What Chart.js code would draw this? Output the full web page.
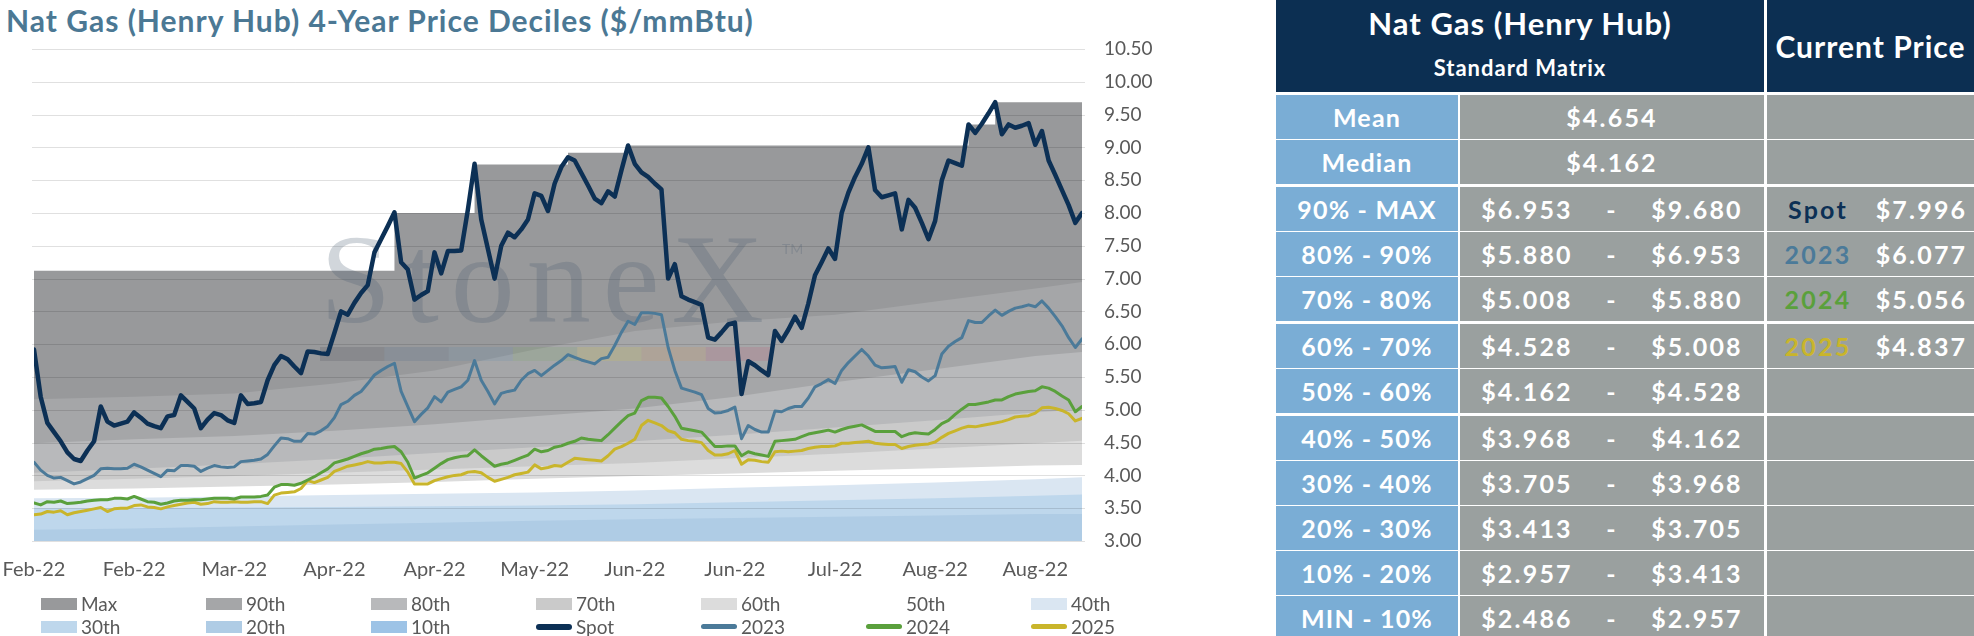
<!DOCTYPE html>
<html>
<head>
<meta charset="utf-8">
<script src="https://cdn.jsdelivr.net/npm/chart.js@4.4.1/dist/chart.umd.min.js"></script>
<style>
  html, body { margin: 0; padding: 0; background: #fff; }
  body { width: 1974px; height: 636px; position: relative; overflow: hidden; font-family: Lato, "Open Sans", sans-serif; }
  #title { position: absolute; left: 6px; top: 2px; font-size: 30px; letter-spacing: 1px; font-weight: 700; color: #4b7894; white-space: nowrap; }
  #chartBox { position: absolute; left: 0; top: 30px; width: 1200px; height: 570px; }
  #legend { position: absolute; left: 41px; top: 592px; display: grid; grid-template-columns: repeat(7, 165px); grid-auto-rows: 23px; font-size: 19px; color: #595959; }
  #legend .item { display: flex; align-items: center; white-space: nowrap; }
  #legend .sw { width: 36px; height: 12px; margin-right: 4px; }
  #legend .ln { width: 36px; height: 5px; border-radius: 3px; margin-right: 4px; }
  #matrix { position: absolute; left: 1276px; top: 0; width: 698px; height: 636px; overflow: hidden; }
  #matrix div { position: absolute; box-sizing: border-box; display: flex; align-items: center; justify-content: center; color: #fff; font-weight: 700; white-space: nowrap; }
  #matrix .hdr { background: #0c2f52; }
  #matrix .lab { background: #7aadd5; font-size: 25px; letter-spacing: 1.2px; }
  #matrix .val { background: #9aa09f; font-size: 25px; letter-spacing: 2.2px; }
  #matrix .htxt { position: absolute; left: 0; right: 0; text-align: center; letter-spacing: 1px; }
</style>
</head>
<body>
<div id="title">Nat Gas (Henry Hub) 4-Year Price Deciles ($/mmBtu)</div>
<div id="chartBox"><canvas id="decileChart"></canvas></div>
<div id="legend"></div>
<div id="matrix"></div>

<script>
// x axis: one point per trading day, a label every 15 days
const xTickLabels = ["Feb-22", "Feb-22", "Mar-22", "Apr-22", "Apr-22", "May-22", "Jun-22", "Jun-22", "Jul-22", "Aug-22", "Aug-22"];
const tickEvery = 15;
const yTicks = { min: 3, max: 10.5, step: 0.5 };

const spot = [
  5.92, 5.20, 4.80, 4.66, 4.52, 4.35, 4.25, 4.22, 4.38, 4.52,
  5.05, 4.82, 4.76, 4.79, 4.82, 4.96, 4.88, 4.79, 4.75, 4.72,
  4.90, 4.92, 5.22, 5.12, 5.02, 4.72, 4.85, 4.95, 4.92, 4.84,
  4.80, 5.22, 5.09, 5.10, 5.12, 5.45, 5.68, 5.82, 5.77, 5.66,
  5.56, 5.89, 5.88, 5.86, 5.85, 6.17, 6.50, 6.45, 6.63, 6.78,
  6.90, 7.40, 7.60, 7.80, 8.01, 7.25, 7.14, 6.68, 6.75, 6.81,
  7.40, 7.08, 7.42, 7.42, 7.43, 8.05, 8.75, 7.90, 7.45, 7.00,
  7.50, 7.70, 7.63, 7.75, 7.90, 8.30, 8.26, 8.03, 8.45, 8.70,
  8.85, 8.80, 8.61, 8.42, 8.22, 8.15, 8.33, 8.25, 8.65, 9.03,
  8.75, 8.62, 8.55, 8.45, 8.36, 7.00, 7.22, 6.73, 6.68, 6.64,
  6.60, 6.10, 6.07, 6.18, 6.30, 6.33, 5.24, 5.74, 5.68, 5.60,
  5.53, 6.20, 6.05, 6.22, 6.42, 6.25, 6.62, 7.05, 7.25, 7.46,
  7.30, 8.00, 8.31, 8.55, 8.75, 9.00, 8.35, 8.24, 8.27, 8.30,
  7.75, 8.20, 8.08, 7.85, 7.60, 7.88, 8.50, 8.80, 8.76, 8.72,
  9.35, 9.22, 9.36, 9.52, 9.69, 9.20, 9.35, 9.30, 9.33, 9.37,
  9.04, 9.25, 8.80, 8.58, 8.35, 8.12, 7.85, 8.00
];

const y2023 = [
  4.20, 4.08, 4.00, 3.96, 3.97, 3.92, 3.87, 3.90, 3.95, 4.00,
  4.10, 4.11, 4.10, 4.10, 4.11, 4.17, 4.13, 4.08, 4.03, 3.98,
  4.08, 4.07, 4.15, 4.15, 4.14, 4.06, 4.11, 4.15, 4.13, 4.12,
  4.13, 4.21, 4.22, 4.23, 4.25, 4.32, 4.45, 4.57, 4.56, 4.52,
  4.52, 4.64, 4.63, 4.68, 4.75, 4.88, 5.08, 5.13, 5.22, 5.28,
  5.40, 5.53, 5.60, 5.66, 5.71, 5.28, 5.05, 4.82, 4.93, 5.03,
  5.20, 5.12, 5.27, 5.31, 5.35, 5.45, 5.75, 5.45, 5.28, 5.09,
  5.25, 5.28, 5.30, 5.45, 5.55, 5.60, 5.52, 5.60, 5.68, 5.75,
  5.84, 5.80, 5.76, 5.73, 5.70, 5.78, 5.80, 5.98, 6.18, 6.35,
  6.30, 6.48, 6.48, 6.47, 6.45, 5.95, 5.60, 5.33, 5.30, 5.27,
  5.23, 5.02, 4.95, 4.96, 4.99, 5.04, 4.56, 4.76, 4.70, 4.66,
  4.66, 4.98, 4.97, 5.02, 5.05, 5.05, 5.18, 5.35, 5.40, 5.46,
  5.40, 5.60, 5.72, 5.82, 5.92, 5.82, 5.68, 5.64, 5.65, 5.66,
  5.42, 5.61, 5.58, 5.50, 5.44, 5.52, 5.85, 5.97, 6.04, 6.10,
  6.36, 6.33, 6.33, 6.43, 6.52, 6.44, 6.50, 6.55, 6.57, 6.60,
  6.57, 6.66, 6.55, 6.42, 6.28, 6.10, 5.95, 6.08
];

const y2024 = [
  3.58, 3.55, 3.60, 3.59, 3.61, 3.57, 3.58, 3.59, 3.61, 3.62,
  3.63, 3.63, 3.65, 3.65, 3.64, 3.68, 3.64, 3.60, 3.59, 3.56,
  3.58, 3.61, 3.62, 3.62, 3.63, 3.63, 3.64, 3.65, 3.65, 3.65,
  3.64, 3.67, 3.67, 3.67, 3.68, 3.70, 3.82, 3.86, 3.86, 3.85,
  3.88, 3.93, 3.98, 4.04, 4.10, 4.19, 4.22, 4.25, 4.29, 4.33,
  4.36, 4.40, 4.41, 4.43, 4.44, 4.36, 4.20, 3.96, 4.00, 4.04,
  4.11, 4.18, 4.24, 4.27, 4.29, 4.30, 4.39, 4.30, 4.22, 4.14,
  4.17, 4.19, 4.23, 4.27, 4.31, 4.40, 4.36, 4.38, 4.43, 4.45,
  4.49, 4.52, 4.57, 4.55, 4.54, 4.53, 4.62, 4.72, 4.82, 4.91,
  4.95, 5.14, 5.19, 5.19, 5.18, 5.05, 4.90, 4.72, 4.70, 4.68,
  4.66, 4.55, 4.44, 4.44, 4.45, 4.45, 4.30, 4.36, 4.33, 4.31,
  4.29, 4.52, 4.53, 4.54, 4.55, 4.59, 4.63, 4.65, 4.67, 4.69,
  4.66, 4.70, 4.73, 4.75, 4.77, 4.72, 4.67, 4.67, 4.67, 4.67,
  4.59, 4.63, 4.65, 4.64, 4.63, 4.70, 4.79, 4.84, 4.93, 5.01,
  5.08, 5.08, 5.10, 5.12, 5.15, 5.15, 5.20, 5.24, 5.26, 5.28,
  5.29, 5.35, 5.33, 5.28, 5.21, 5.15, 4.97, 5.05
];

const y2025 = [
  3.40, 3.41, 3.45, 3.44, 3.46, 3.40, 3.43, 3.45, 3.47, 3.49,
  3.51, 3.45, 3.49, 3.50, 3.50, 3.54, 3.55, 3.52, 3.51, 3.49,
  3.52, 3.54, 3.56, 3.58, 3.59, 3.56, 3.57, 3.60, 3.59, 3.59,
  3.60, 3.59, 3.59, 3.60, 3.60, 3.57, 3.70, 3.73, 3.74, 3.75,
  3.80, 3.92, 3.89, 3.93, 3.97, 4.06, 4.10, 4.14, 4.16, 4.18,
  4.21, 4.19, 4.19, 4.20, 4.20, 4.18, 4.05, 3.87, 3.87, 3.87,
  3.92, 3.95, 3.98, 4.00, 4.01, 4.05, 4.06, 4.04, 3.97, 3.91,
  3.94, 3.97, 4.01, 4.03, 4.05, 4.16, 4.10, 4.12, 4.15, 4.14,
  4.20, 4.26, 4.25, 4.24, 4.23, 4.22, 4.30, 4.40, 4.44, 4.49,
  4.55, 4.76, 4.84, 4.80, 4.76, 4.68, 4.65, 4.55, 4.53, 4.52,
  4.50, 4.38, 4.31, 4.31, 4.33, 4.38, 4.17, 4.24, 4.23, 4.21,
  4.20, 4.36, 4.37, 4.36, 4.37, 4.38, 4.41, 4.43, 4.44, 4.44,
  4.45, 4.49, 4.49, 4.50, 4.51, 4.52, 4.49, 4.48, 4.47, 4.47,
  4.41, 4.44, 4.46, 4.47, 4.48, 4.51, 4.58, 4.64, 4.68, 4.72,
  4.75, 4.74, 4.76, 4.78, 4.80, 4.82, 4.85, 4.89, 4.90, 4.91,
  4.95, 5.03, 5.04, 5.02, 4.99, 4.94, 4.83, 4.87
];

// decile bands, read every 15 trading days
const bandDays = [0, 15, 30, 45, 60, 75, 90, 105, 120, 135, 150, 157];
const p90 = [5.16, 5.20, 5.25, 5.40, 5.60, 5.92, 6.20, 6.35, 6.45, 6.65, 6.85, 6.95];
const p80 = [4.49, 4.55, 4.60, 4.68, 4.78, 4.90, 5.02, 5.20, 5.42, 5.62, 5.82, 5.88];
const p70 = [4.04, 4.10, 4.17, 4.25, 4.34, 4.43, 4.52, 4.62, 4.73, 4.84, 4.96, 5.01];
const p60 = [3.91, 3.95, 3.99, 4.04, 4.09, 4.14, 4.19, 4.26, 4.33, 4.41, 4.49, 4.53];
const p50 = [3.78, 3.80, 3.83, 3.86, 3.90, 3.95, 3.99, 4.03, 4.07, 4.11, 4.15, 4.16];
const p40 = [3.65, 3.66, 3.68, 3.70, 3.72, 3.74, 3.77, 3.81, 3.85, 3.89, 3.94, 3.97];
const p30 = [3.50, 3.50, 3.51, 3.52, 3.53, 3.54, 3.56, 3.59, 3.62, 3.65, 3.69, 3.71];
const p20 = [3.17, 3.19, 3.22, 3.25, 3.28, 3.31, 3.33, 3.35, 3.37, 3.39, 3.41, 3.41];
const p10 = [2.80, 2.82, 2.84, 2.86, 2.88, 2.90, 2.91, 2.92, 2.93, 2.94, 2.95, 2.96];
// max band only changes on new highs
const maxDays = [0, 54, 66, 80, 89, 140, 144, 157];
const maxLevels = [7.12, 8.00, 8.74, 8.92, 9.03, 9.35, 9.69, 9.69];

const bandNames = ["Max", "90th", "80th", "70th", "60th", "50th", "40th", "30th", "20th", "10th"];
const bandColors = ["#98999b", "#a5a6a8", "#b8b9bb", "#cacaca", "#dcdcdc", "#ffffff", "#dae6f2", "#bed7ec", "#afcce5", "#9dc3e6"];
const lineNames = ["Spot", "2023", "2024", "2025"];
const lineColors = ["#0c3055", "#4b7a99", "#5aa03c", "#c9b52b"];
const lineWidths = [4.5, 3, 3, 3];

// price matrix
const statLabels = ["Mean", "Median"];
const statValues = [4.654, 4.162];
const decileLabels = ["90% - MAX", "80% - 90%", "70% - 80%", "60% - 70%", "50% - 60%", "40% - 50%", "30% - 40%", "20% - 30%", "10% - 20%", "MIN - 10%"];
const decileLow = [6.953, 5.880, 5.008, 4.528, 4.162, 3.968, 3.705, 3.413, 2.957, 2.486];
const decileHigh = [9.680, 6.953, 5.880, 5.008, 4.528, 4.162, 3.968, 3.705, 3.413, 2.957];
const currentPrices = [7.996, 6.077, 5.056, 4.837];

Chart.defaults.font.family = "Lato, 'Open Sans', sans-serif";

const bandSeries = [maxLevels, p90, p80, p70, p60, p50, p40, p30, p20, p10];
const lineSeries = [spot, y2023, y2024, y2025];

const datasets = [];
bandSeries.forEach((vals, k) => {
  const days = k === 0 ? maxDays : bandDays;
  datasets.push({
    label: bandNames[k],
    data: vals.map((v, j) => ({ x: days[j], y: v })),
    backgroundColor: bandColors[k],
    borderWidth: 0,
    pointRadius: 0,
    fill: "start",
    stepped: k === 0,
    order: 30 - k,
  });
});
lineSeries.forEach((vals, k) => {
  datasets.push({
    label: lineNames[k],
    data: vals.map((v, i) => ({ x: i, y: v })),
    borderColor: lineColors[k],
    borderWidth: lineWidths[k],
    borderJoinStyle: "round",
    borderCapStyle: "round",
    pointRadius: 0,
    fill: false,
    tension: 0,
    order: k + 1,
  });
});
const firstLineDrawn = bandSeries.length + lineSeries.length - 1;

// grid lines and StoneX watermark sit between the bands and the price lines
const overlay = {
  id: "overlay",
  beforeDatasetDraw(chart, args) {
    if (args.index !== firstLineDrawn) return;
    const { ctx, chartArea, scales } = chart;
    ctx.save();
    ctx.strokeStyle = "rgba(0, 0, 0, 0.12)";
    ctx.lineWidth = 1;
    scales.y.ticks.forEach((t) => {
      const y = Math.round(scales.y.getPixelForValue(t.value)) + 0.5;
      ctx.beginPath();
      ctx.moveTo(chartArea.left - 2, y);
      ctx.lineTo(chartArea.right + 3, y);
      ctx.stroke();
    });

    const left = chartArea.left + 286;
    const base = chartArea.top + 273;
    ctx.font = '128px "Liberation Serif", serif';
    ctx.letterSpacing = "12px";
    ctx.fillStyle = "rgba(70, 90, 110, 0.25)";
    ctx.textBaseline = "alphabetic";
    ctx.fillText("StoneX", left, base);
    ctx.letterSpacing = "0px";
    ctx.font = "14px Lato";
    ctx.fillText("TM", chartArea.left + 748, chartArea.top + 205);

    const strip = ["rgba(40,45,55,0.14)", "rgba(40,80,120,0.13)", "rgba(70,130,180,0.13)",
      "rgba(100,170,70,0.13)", "rgba(220,200,60,0.17)", "rgba(230,150,60,0.15)", "rgba(200,70,100,0.15)"];
    strip.forEach((c, i) => {
      ctx.fillStyle = c;
      ctx.fillRect(left + i * 64.3, chartArea.top + 298, 64.3, 14);
    });
    ctx.restore();
  },
};

new Chart(document.getElementById("decileChart"), {
  type: "line",
  data: { datasets },
  options: {
    responsive: true,
    maintainAspectRatio: false,
    animation: false,
    layout: { padding: { left: 34, top: 19, right: 0, bottom: 0 } },
    plugins: { legend: { display: false }, tooltip: { enabled: false } },
    scales: {
      x: {
        type: "linear",
        min: 0,
        max: spot.length - 1,
        grid: { display: false },
        border: { display: false },
        ticks: {
          stepSize: tickEvery,
          includeBounds: false,
          autoSkip: false,
          maxRotation: 0,
          padding: 9,
          color: "#595959",
          font: { size: 20 },
          callback: (v) => (v % tickEvery === 0 ? xTickLabels[v / tickEvery] : ""),
        },
        afterFit: (scale) => {
          scale.height = 59;
          scale.paddingLeft = 0;
          scale.paddingRight = 0;
        },
      },
      y: {
        position: "right",
        min: yTicks.min,
        max: yTicks.max,
        grid: { display: false, drawTicks: false },
        border: { display: false },
        ticks: {
          stepSize: yTicks.step,
          padding: 22,
          color: "#595959",
          font: { size: 19 },
          callback: (v) => v.toFixed(2),
        },
        afterFit: (scale) => {
          scale.width = 118;
          scale.paddingTop = 0;
          scale.paddingBottom = 0;
        },
      },
    },
  },
  plugins: [overlay],
});

// legend
const legend = document.getElementById("legend");
bandNames.forEach((name, k) => {
  legend.insertAdjacentHTML("beforeend",
    `<div class="item"><span class="sw" style="background:${bandColors[k]}"></span>${name}</div>`);
});
lineNames.forEach((name, k) => {
  const h = k === 0 ? 6 : 5;
  legend.insertAdjacentHTML("beforeend",
    `<div class="item"><span class="ln" style="background:${lineColors[k]};height:${h}px"></span>${name}</div>`);
});

// price matrix
const matrix = document.getElementById("matrix");
const cols = [[0, 182], [184, 304], [491, 207]];
function cell(cls, x, y, w, h, html, style) {
  matrix.insertAdjacentHTML("beforeend",
    `<div class="${cls}" style="left:${x}px;top:${y}px;width:${w}px;height:${h}px;${style || ""}">${html}</div>`);
}
cell("hdr", 0, 0, 488, 92,
  `<span class="htxt" style="top:4px;font-size:31px">Nat Gas (Henry Hub)</span>` +
  `<span class="htxt" style="top:54px;font-size:22px">Standard Matrix</span>`);
cell("hdr", 491, 0, 207, 92, `<span style="font-size:30px;letter-spacing:1px">Current Price</span>`);

const money = (v) => "$" + v.toFixed(3);
const rowLabels = statLabels.concat(decileLabels);
const thickAfter = [1, 4, 6];
let rowTop = 95;
rowLabels.forEach((label, r) => {
  const h = 44;
  cell("lab", cols[0][0], rowTop, cols[0][1], h, label);
  if (r < statLabels.length) {
    cell("val", cols[1][0], rowTop, cols[1][1], h, money(statValues[r]));
    cell("val", cols[2][0], rowTop, cols[2][1], h, "");
  } else {
    const d = r - statLabels.length;
    cell("val", cols[1][0], rowTop, cols[1][1], h,
      `<span style="width:134px;text-align:center">${money(decileLow[d])}</span>` +
      `<span style="width:36px;text-align:center">-</span>` +
      `<span style="width:134px;text-align:center">${money(decileHigh[d])}</span>`,
      "justify-content:flex-start");
    if (d < lineNames.length) {
      cell("val", cols[2][0], rowTop, cols[2][1], h,
        `<span style="width:102px;text-align:center;color:${lineColors[d]}">${lineNames[d]}</span>` +
        `<span style="width:105px;text-align:center">${money(currentPrices[d])}</span>`,
        "justify-content:flex-start");
    } else {
      cell("val", cols[2][0], rowTop, cols[2][1], h, "");
    }
  }
  rowTop += h + (thickAfter.includes(r) ? 3 : 1);
});
</script>
</body>
</html>
